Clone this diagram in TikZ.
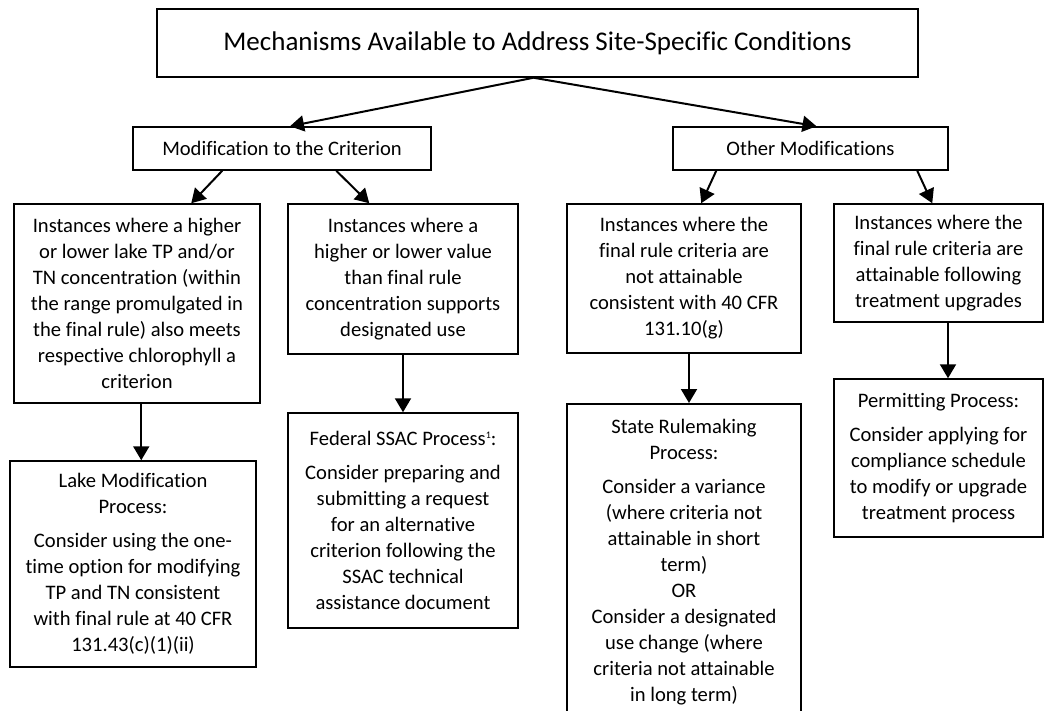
\documentclass[tikz,border=0pt]{standalone}
\usepackage{fontspec}
\setmainfont[Ligatures=NoCommon]{Carlito}
\usetikzlibrary{arrows.meta}
\begin{document}
\begin{tikzpicture}[x=1pt,y=-1pt,
  box/.style={draw, line width=1.5pt, align=center, inner sep=0pt, font=\fontsize{20.6}{26}\selectfont},
  arr/.style={line width=2pt, -{Triangle[length=14pt,width=16pt]}}]
\useasboundingbox (0,0) rectangle (1049,711);
\node[box, minimum width=761pt, minimum height=68pt, font=\fontsize{27}{32}\selectfont] (top) at (537.5,43) {Mechanisms Available to Address Site-Specific Conditions};
\node[box, minimum width=298pt, minimum height=43pt] (mod) at (282,148.5) {Modification to the Criterion};
\node[box, minimum width=275pt, minimum height=43pt] (oth) at (810.5,148.5) {Other Modifications};
\node[box, minimum width=246pt, minimum height=199pt] (A) at (137,303.5) {Instances where a higher\\or lower lake TP and/or\\TN concentration (within\\the range promulgated in\\the final rule) also meets\\respective chlorophyll a\\criterion};
\node[box, minimum width=230pt, minimum height=150pt] (B) at (403,279) {Instances where a\\higher or lower value\\than final rule\\concentration supports\\designated use};
\node[box, minimum width=234pt, minimum height=149pt] (C) at (684,278.5) {Instances where the\\final rule criteria are\\not attainable\\consistent with 40 CFR\\131.10(g)};
\node[box, minimum width=209pt, minimum height=118pt] (D) at (938.5,263) {Instances where the\\final rule criteria are\\attainable following\\treatment upgrades};
\node[box, minimum width=246pt, minimum height=206pt] (E) at (133,564) {Lake Modification\\Process:\\[8pt]Consider using the one-\\time option for modifying\\TP and TN consistent\\with final rule at 40 CFR\\131.43(c)(1)(ii)};
\node[box, minimum width=230pt, minimum height=215pt] (F) at (403,520.5) {Federal SSAC Process\raisebox{7pt}{\fontsize{10}{10}\selectfont 1}:\\[8pt]Consider preparing and\\submitting a request\\for an alternative\\criterion following the\\SSAC technical\\assistance document};
\node[box, minimum width=234pt, anchor=north, inner ysep=15pt] (G) at (684,403) {State Rulemaking\\Process:\\[8pt]Consider a variance\\(where criteria not\\attainable in short\\term)\\OR\\Consider a designated\\use change (where\\criteria not attainable\\in long term)\\[40pt]~};
\node[box, minimum width=209pt, minimum height=158pt] (H) at (938.5,458) {Permitting Process:\\[8pt]Consider applying for\\compliance schedule\\to modify or upgrade\\treatment process};
\draw[arr] ([xshift=-4pt]top.south) -- ([xshift=8pt]mod.north);
\draw[arr] ([xshift=-4pt]top.south) -- ([xshift=6pt]oth.north);
\draw[arr] ([xshift=90pt]mod.south west) -- ([xshift=178pt]A.north west);
\draw[arr] ([xshift=204pt]mod.south west) -- ([xshift=82pt]B.north west);
\draw[arr] ([xshift=44pt]oth.south west) -- ([xshift=135pt]C.north west);
\draw[arr] ([xshift=245pt]oth.south west) -- ([xshift=99pt]D.north west);
\draw[arr] ([xshift=128pt]A.south west) -- ([xshift=132pt]E.north west);
\draw[arr] (B.south) -- (F.north);
\draw[arr] ([xshift=5pt]C.south) -- ([xshift=5pt]G.north);
\draw[arr] ([xshift=9.5pt]D.south) -- ([xshift=9.5pt]H.north);
\end{tikzpicture}
\end{document}
